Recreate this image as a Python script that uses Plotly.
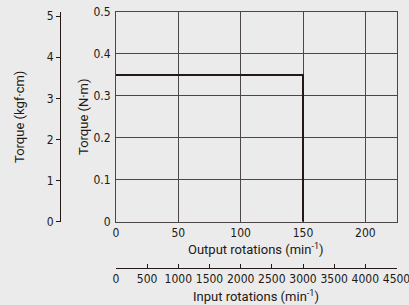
import plotly.graph_objects as go

# Data
output_rpm = [0, 150, 150]
torque_nm = [0.35, 0.35, 0]
x_ticks_out = [0, 50, 100, 150, 200]
x_ticks_in = [0, 500, 1000, 1500, 2000, 2500, 3000, 3500, 4000, 4500]
y_ticks_nm = [0, 0.1, 0.2, 0.3, 0.4, 0.5]
y_ticks_kgf = [0, 1, 2, 3, 4, 5]
ratio = 20  # input / output
NM_PER_KGFCM = 0.0980665

W, H = 409, 305
BG = "#ebebeb"
INK = "#231815"
GRID = "#4d4646"
FONT_T = "Liberation Sans Narrow, DejaVu Sans Condensed, sans-serif"
FONT = "Roboto, Liberation Sans, sans-serif"

px_l, px_r, px_t, px_b = 116, 396.5, 12, 221.7
xdom = [px_l / W, px_r / W]
ydom = [(H - px_b) / H, (H - px_t) / H]
xmax = 225
ymax = 0.5

fig = go.Figure()
fig.add_trace(go.Scatter(x=output_rpm, y=torque_nm, mode="lines",
                         line=dict(color=INK, width=2), showlegend=False,
                         hoverinfo="skip"))
fig.add_trace(go.Scatter(x=[0], y=[0], xaxis="x2", yaxis="y", mode="markers",
                         marker=dict(opacity=0), showlegend=False, hoverinfo="skip"))
fig.add_trace(go.Scatter(x=[0], y=[0], xaxis="x", yaxis="y2", mode="markers",
                         marker=dict(opacity=0), showlegend=False, hoverinfo="skip"))

tickfont = dict(family=FONT_T, size=12, color=INK)

fig.update_layout(
    width=W, height=H,
    margin=dict(l=0, r=0, t=0, b=0, autoexpand=False),
    paper_bgcolor=BG, plot_bgcolor=BG,
    xaxis=dict(domain=xdom, range=[0, xmax], tickvals=x_ticks_out,
               ticktext=[str(v) for v in x_ticks_out],
               showgrid=True, gridcolor=GRID, gridwidth=1,
               showline=True, linecolor=GRID, linewidth=1, mirror=True,
               ticks="", tickfont=tickfont, zeroline=False, anchor="y",
               automargin=False),
    yaxis=dict(domain=ydom, range=[0, ymax], tickvals=y_ticks_nm,
               ticktext=["0", "0.1", "0.2", "0.3", "0.4", "0.5"],
               showgrid=True, gridcolor=GRID, gridwidth=1,
               showline=True, linecolor=GRID, linewidth=1, mirror=True,
               ticks="", tickfont=tickfont, zeroline=False, anchor="x",
               ticklabelstandoff=2, automargin=False),
    xaxis2=dict(overlaying="x", anchor="free", position=(H - 268) / H,
                side="bottom", range=[0, xmax * ratio], tickvals=x_ticks_in,
                ticktext=[str(v) for v in x_ticks_in],
                showgrid=False, showline=True, linecolor=INK, linewidth=1,
                ticks="inside", ticklen=4, tickcolor=INK, tickfont=tickfont,
                zeroline=False, automargin=False, ticklabeloverflow="allow"),
    yaxis2=dict(overlaying="y", anchor="free", position=60 / W, side="left",
                range=[0, ymax / NM_PER_KGFCM], tickvals=y_ticks_kgf,
                ticktext=[str(v) for v in y_ticks_kgf],
                showgrid=False, showline=True, linecolor=INK, linewidth=1,
                ticks="outside", ticklen=4, tickcolor=INK, tickfont=tickfont,
                zeroline=False, automargin=False),
)

title_font = dict(family=FONT, size=13, color=INK)
fig.add_annotation(text="Output rotations (min<sup>-1</sup>)", x=(px_l + px_r) / 2 / W,
                   y=(H - 249) / H, xref="paper", yref="paper", showarrow=False,
                   font=title_font, xanchor="center", yanchor="middle")
fig.add_annotation(text="Input rotations (min<sup>-1</sup>)", x=(px_l + px_r) / 2 / W,
                   y=(H - 296) / H, xref="paper", yref="paper", showarrow=False,
                   font=title_font, xanchor="center", yanchor="middle")
fig.add_annotation(text="Torque (N·m)", x=83 / W, y=(H - 117) / H,
                   xref="paper", yref="paper", showarrow=False, textangle=-90,
                   font=title_font, xanchor="center", yanchor="middle")
fig.add_annotation(text="Torque (kgf·cm)", x=19 / W, y=(H - 117) / H,
                   xref="paper", yref="paper", showarrow=False, textangle=-90,
                   font=title_font, xanchor="center", yanchor="middle")

fig.write_html("out.html", config={"displayModeBar": False},
               post_script="document.body.style.margin='0px';document.body.style.overflow='hidden';")
